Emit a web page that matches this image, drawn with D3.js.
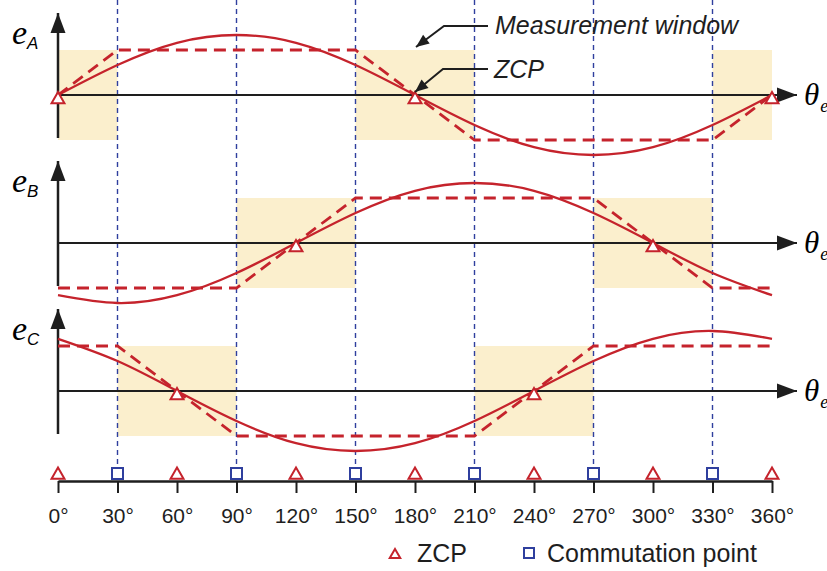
<!DOCTYPE html>
<html>
<head>
<meta charset="utf-8">
<script src="https://cdn.jsdelivr.net/npm/d3@7"></script>
<style>
body{margin:0;background:#fff;}
svg{display:block;}
</style>
</head>
<body>
<svg id="svg" width="827" height="571"></svg>
<script>
// electrical angle, degrees
var angles=[0,30,60,90,120,150,180,210,240,270,300,330,360];
var commutation=[30,90,150,210,270,330];
var zcpBottom=[0,60,120,180,240,300,360];

// back-EMF (sine) read every 30 deg
var sineA=[0,0.5,0.87,1,0.87,0.5,0,-0.5,-0.87,-1,-0.87,-0.5,0];
var sineB=[-0.87,-1,-0.87,-0.5,0,0.5,0.87,1,0.87,0.5,0,-0.5,-0.87];
var sineC=[0.87,0.5,0,-0.5,-0.87,-1,-0.87,-0.5,0,0.5,0.87,1,0.87];

// trapezoid corners [angle, value]
var trapA=[[0,0],[30,0.75],[150,0.75],[210,-0.75],[330,-0.75],[360,0]];
var trapB=[[0,-0.75],[90,-0.75],[150,0.75],[270,0.75],[330,-0.75],[360,-0.75]];
var trapC=[[0,0.75],[30,0.75],[90,-0.75],[210,-0.75],[270,0.75],[360,0.75]];

// measurement windows [from, to]
var winA=[[0,30],[150,210],[330,360]];
var winB=[[90,150],[270,330]];
var winC=[[30,90],[210,270]];

// zero crossing points on each phase
var zcpA=[0,180,360];
var zcpB=[120,300];
var zcpC=[60,240];

var phaseNames=["A","B","C"];
var legendLabels=["ZCP","Commutation point"];

var red="#c5232c", blue="#2f3f9e", ink="#1e1e1e", shade="#fbefcd";

var svg=d3.select("#svg");
var defs=svg.append("defs");
defs.append("marker").attr("id","axArrow")
  .attr("markerUnits","userSpaceOnUse").attr("markerWidth",24).attr("markerHeight",18)
  .attr("viewBox","-22 -8 24 16").attr("refX",0).attr("refY",0).attr("orient","auto")
  .append("path").attr("d","M-20,-7.5L0,0L-20,7.5Z").attr("fill",ink);
defs.append("marker").attr("id","leadArrow")
  .attr("markerUnits","userSpaceOnUse").attr("markerWidth",16).attr("markerHeight",14)
  .attr("viewBox","-14 -7 16 14").attr("refX",0).attr("refY",0).attr("orient","auto")
  .append("path").attr("d","M-13,-5.5L0,0L-13,5.5Z").attr("fill",ink);

var x=d3.scaleLinear().domain([0,360]).range([58,772]);
var panelY=[95,243,391];
var sines=[sineA,sineB,sineC];
var traps=[trapA,trapB,trapC];
var wins=[winA,winB,winC];
var zcps=[zcpA,zcpB,zcpC];

var ys=panelY.map(function(p){
  return d3.scaleLinear().domain([-1,1]).range([p+60,p-60]);
});

// shaded windows
panelY.forEach(function(p,i){
  var y=ys[i];
  svg.append("g").selectAll("rect").data(wins[i]).enter()
    .append("rect")
    .attr("x",function(d){return x(d[0]);})
    .attr("width",function(d){return x(d[1])-x(d[0]);})
    .attr("y",y(0.75))
    .attr("height",y(-0.75)-y(0.75))
    .attr("fill",shade);
});

// commutation guide lines
svg.append("g").selectAll("line").data(commutation).enter()
  .append("line")
  .attr("x1",function(d){return x(d);}).attr("x2",function(d){return x(d);})
  .attr("y1",0).attr("y2",467)
  .attr("stroke",blue).attr("stroke-width",1.4).attr("stroke-dasharray","5,4");

// panel axes
panelY.forEach(function(p,i){
  var g=svg.append("g");
  g.append("line").attr("x1",x(0)).attr("x2",797).attr("y1",p).attr("y2",p)
    .attr("stroke",ink).attr("stroke-width",2).attr("marker-end","url(#axArrow)");
  g.append("line").attr("x1",x(0)).attr("x2",x(0)).attr("y1",p+43).attr("y2",p-82)
    .attr("stroke",ink).attr("stroke-width",2.5).attr("marker-end","url(#axArrow)");

  var lab=g.append("text").attr("x",12).attr("y",p-51)
    .attr("font-family","'Liberation Serif','Times New Roman',serif");
  lab.append("tspan").attr("font-style","italic").attr("font-size",34).text("e");
  lab.append("tspan").attr("font-family","'Liberation Sans',Arial,sans-serif")
    .attr("font-style","italic").attr("font-size",17).attr("dy",5).text(phaseNames[i]);

  var th=g.append("text").attr("x",804).attr("y",p+10)
    .attr("font-family","'Liberation Serif','Times New Roman',serif").attr("font-style","italic");
  th.append("tspan").attr("font-size",31).text("\u03b8");
  th.append("tspan").attr("font-size",18).attr("dy",7).attr("dx",1).text("e");
});

// curves
panelY.forEach(function(p,i){
  var y=ys[i];
  var sineLine=d3.line().curve(d3.curveNatural)
    .x(function(d,k){return x(angles[k]);}).y(function(d){return y(d);});
  svg.append("path").datum(sines[i]).attr("d",sineLine)
    .attr("fill","none").attr("stroke",red).attr("stroke-width",2.3);
  var trapLine=d3.line().x(function(d){return x(d[0]);}).y(function(d){return y(d[1]);});
  svg.append("path").datum(traps[i]).attr("d",trapLine)
    .attr("fill","none").attr("stroke",red).attr("stroke-width",2.8)
    .attr("stroke-dasharray","12,7");
});

var tri=d3.symbol().type(d3.symbolTriangle).size(72);
var sq=d3.symbol().type(d3.symbolSquare).size(121);

// ZCP markers on phases
panelY.forEach(function(p,i){
  svg.append("g").selectAll("path").data(zcps[i]).enter()
    .append("path").attr("d",tri)
    .attr("transform",function(d){return "translate("+x(d)+","+(ys[i](0)+4.5)+")";})
    .attr("fill","#fff").attr("stroke",red).attr("stroke-width",2);
});

// bottom angle axis
var axisG=svg.append("g").attr("transform","translate(0,481)")
  .call(d3.axisBottom(x).tickValues(angles).tickSize(12).tickSizeOuter(0).tickPadding(15)
    .tickFormat(function(d){return d+"\u00b0";}));
axisG.select(".domain").attr("stroke",ink).attr("stroke-width",2.5);
axisG.selectAll(".tick line").attr("stroke",ink).attr("stroke-width",2);
axisG.selectAll(".tick text").attr("fill",ink).attr("font-size",21)
  .attr("font-family","'Liberation Sans',Arial,sans-serif");

svg.append("g").selectAll("path").data(zcpBottom).enter()
  .append("path").attr("d",tri)
  .attr("transform",function(d){return "translate("+x(d)+",475)";})
  .attr("fill","#fff").attr("stroke",red).attr("stroke-width",2);
svg.append("g").selectAll("path").data(commutation).enter()
  .append("path").attr("d",sq)
  .attr("transform",function(d){return "translate("+x(d)+",473.5)";})
  .attr("fill","#fff").attr("stroke",blue).attr("stroke-width",2);

// annotations
var ann=svg.append("g").attr("font-family","'Liberation Sans',Arial,sans-serif")
  .attr("font-style","italic").attr("font-size",25).attr("fill",ink);
ann.append("text").attr("x",495).attr("y",34).text("Measurement window");
ann.append("text").attr("x",494).attr("y",78).text("ZCP");
svg.append("polyline").attr("points","488,26 444,26 416,47")
  .attr("fill","none").attr("stroke",ink).attr("stroke-width",2).attr("marker-end","url(#leadArrow)");
svg.append("polyline").attr("points","488,69 443,69 415,92")
  .attr("fill","none").attr("stroke",ink).attr("stroke-width",2).attr("marker-end","url(#leadArrow)");

// legend
var leg=svg.append("g").attr("font-family","'Liberation Sans',Arial,sans-serif")
  .attr("font-size",25).attr("fill",ink);
leg.append("path").attr("d",d3.symbol().type(d3.symbolTriangle).size(48))
  .attr("transform","translate(395,555)").attr("fill","#fff").attr("stroke",red).attr("stroke-width",2);
leg.append("text").attr("x",417).attr("y",562).text(legendLabels[0]);
leg.append("path").attr("d",d3.symbol().type(d3.symbolSquare).size(100))
  .attr("transform","translate(529,553)").attr("fill","#fff").attr("stroke",blue).attr("stroke-width",2);
leg.append("text").attr("x",547).attr("y",562).text(legendLabels[1]);
</script>
</body>
</html>
